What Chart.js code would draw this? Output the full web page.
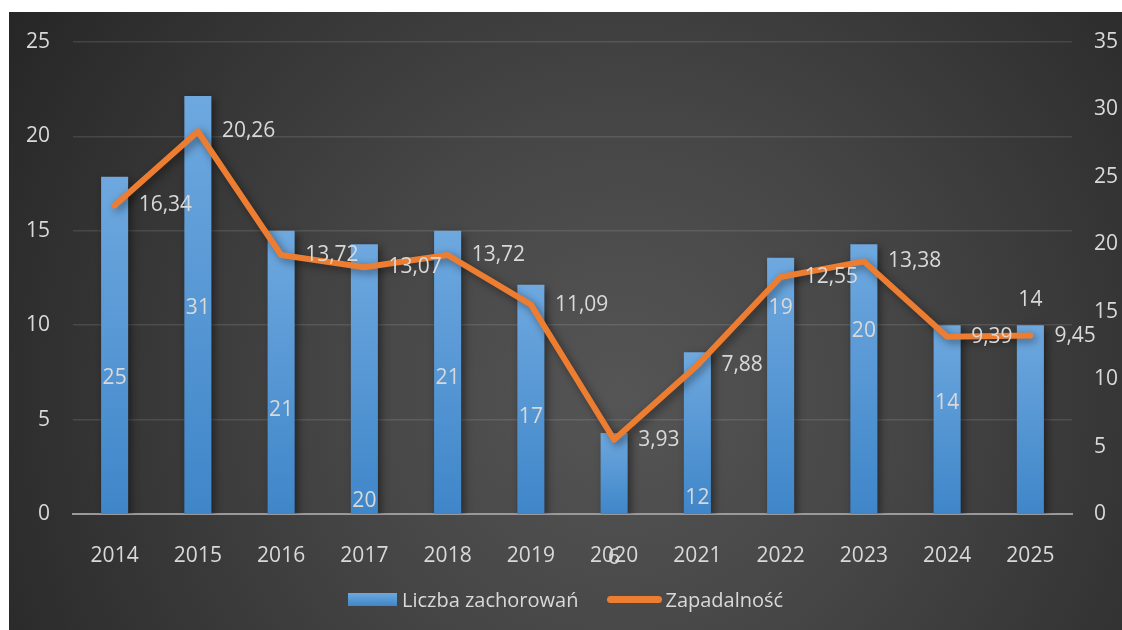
<!DOCTYPE html>
<html>
<head>
<meta charset="utf-8">
<script src="https://cdn.jsdelivr.net/npm/chart.js@4.4.0/dist/chart.umd.min.js"></script>
<style>
html, body { margin: 0; padding: 0; background: #fff; }
#wrap {
  position: absolute; left: 9px; top: 12px; width: 1113px; height: 618px;
  background: radial-gradient(circle at 55% 62%, #555555 0%, #464646 38%, #262626 100%);
}
#chart { position: absolute; left: 0; top: 0; }
#legend {
  position: absolute; left: 339px; top: 573px; height: 28px;
  display: flex; align-items: center;
  font: 20px "Open Sans", sans-serif; color: #d9d9d9;
}
#legend .box { width: 49px; height: 13px; margin-right: 5px;
  background: linear-gradient(#6ea8df, #3f86c9); }
#legend .ln { width: 55px; height: 7px; border-radius: 4px; margin-left: 29px; margin-right: 3px;
  background: #ed7d31; }
</style>
</head>
<body>
<div id="wrap">
  <canvas id="chart" width="1113" height="618"></canvas>
  <div id="legend"><span class="box"></span><span>Liczba zachorowań</span><span class="ln"></span><span>Zapadalność</span></div>
</div>
<script>
// lata
var years = ['2014', '2015', '2016', '2017', '2018', '2019', '2020', '2021', '2022', '2023', '2024', '2025'];
// liczba zachorowan (prawa os)
var cases = [25, 31, 21, 20, 21, 17, 6, 12, 19, 20, 14, 14];
// zapadalnosc (lewa os)
var incidence = [16.34, 20.26, 13.72, 13.07, 13.72, 11.09, 3.93, 7.88, 12.55, 13.38, 9.39, 9.45];

var leftTicks = [0, 5, 10, 15, 20, 25];
var rightTicks = [0, 5, 10, 15, 20, 25, 30, 35];

// where the bar labels sit, in right-axis units (moved by hand in the original)
var barLabelAt = [10.1, 15.3, 7.7, 0.96, 10.1, 7.2, -3.3, 1.2, 15.3, 13.6, 8.2, 15.9];

var textColor = '#d9d9d9';
var font = { family: '"Open Sans", sans-serif', size: 21 };
// small lineHeight so the y tick padding doesn't push the plot area down
var yFont = { family: '"Open Sans", sans-serif', size: 21, lineHeight: 0.6 };

function fmt(v) {
  return v.toFixed(2).replace('.', ',');
}

var shadowPlugin = {
  id: 'shadow',
  beforeDatasetDraw: function(chart, args) {
    var ctx = chart.ctx;
    ctx.save();
    ctx.shadowColor = 'rgba(0,0,0,0.45)';
    ctx.shadowBlur = 8;
    ctx.shadowOffsetX = 3;
    ctx.shadowOffsetY = 3;
  },
  afterDatasetDraw: function(chart, args) {
    chart.ctx.restore();
  }
};

var labelPlugin = {
  id: 'labels',
  afterDatasetsDraw: function(chart) {
    var ctx = chart.ctx;
    ctx.save();
    ctx.font = font.size + 'px ' + font.family;
    ctx.fillStyle = textColor;
    ctx.textBaseline = 'middle';

    var barMeta = chart.getDatasetMeta(0);
    var yr = chart.scales.yRight;
    ctx.textAlign = 'center';
    barMeta.data.forEach(function(bar, i) {
      ctx.fillText(String(cases[i]), bar.x, yr.getPixelForValue(barLabelAt[i]));
    });

    var lineMeta = chart.getDatasetMeta(1);
    ctx.textAlign = 'left';
    lineMeta.data.forEach(function(pt, i) {
      ctx.fillText(fmt(incidence[i]), pt.x + 24, pt.y);
    });
    ctx.restore();
  }
};

var ctx = document.getElementById('chart').getContext('2d');
var chart = new Chart(ctx, {
  type: 'bar',
  data: {
    labels: years,
    datasets: [{
      type: 'bar',
      label: 'Liczba zachorowań',
      data: cases,
      yAxisID: 'yRight',
      order: 1,
      backgroundColor: function(c) {
        var ch = c.chart;
        if (!ch.chartArea || c.type !== 'data') return '#5b9bd5';
        var s = ch.scales.yRight;
        var top = s.getPixelForValue(c.raw);
        var bottom = s.getPixelForValue(0);
        var g = ch.ctx.createLinearGradient(0, top, 0, bottom);
        g.addColorStop(0, '#6ea8df');
        g.addColorStop(1, '#3f86c9');
        return g;
      },
      borderWidth: 0,
      barPercentage: 0.65,
      categoryPercentage: 0.5
    }, {
      type: 'line',
      label: 'Zapadalność',
      data: incidence,
      yAxisID: 'yLeft',
      order: 0,
      borderColor: '#ed7d31',
      backgroundColor: '#ed7d31',
      borderWidth: 6,
      borderJoinStyle: 'round',
      borderCapStyle: 'round',
      pointRadius: 0,
      tension: 0,
      fill: false
    }]
  },
  options: {
    responsive: false,
    animation: false,
    devicePixelRatio: 1,
    layout: { padding: { top: 30, bottom: 0, left: 0, right: 0 } },
    plugins: {
      legend: { display: false },
      tooltip: { enabled: false }
    },
    scales: {
      x: {
        grid: { display: false },
        border: { display: true, color: '#9a9a9a', width: 2 },
        ticks: { color: textColor, font: font, padding: 21, maxRotation: 0 },
        afterFit: function(s) { s.height = 116; }
      },
      yLeft: {
        position: 'left',
        min: leftTicks[0],
        max: leftTicks[leftTicks.length - 1],
        ticks: { stepSize: leftTicks[1] - leftTicks[0], color: textColor, font: yFont, padding: 23 },
        grid: { color: function(c) { return c.tick.value === 0 ? 'rgba(0,0,0,0)' : 'rgba(255,255,255,0.11)'; },
                lineWidth: 1.5, drawTicks: false },
        border: { display: false },
        afterFit: function(s) { s.width = 64; }
      },
      yRight: {
        position: 'right',
        min: rightTicks[0],
        max: rightTicks[rightTicks.length - 1],
        ticks: { stepSize: rightTicks[1] - rightTicks[0], color: textColor, font: yFont, padding: 22 },
        grid: { display: false, drawTicks: false },
        border: { display: false },
        afterFit: function(s) { s.width = 50; }
      }
    }
  },
  plugins: [shadowPlugin, labelPlugin]
});
</script>
</body>
</html>
